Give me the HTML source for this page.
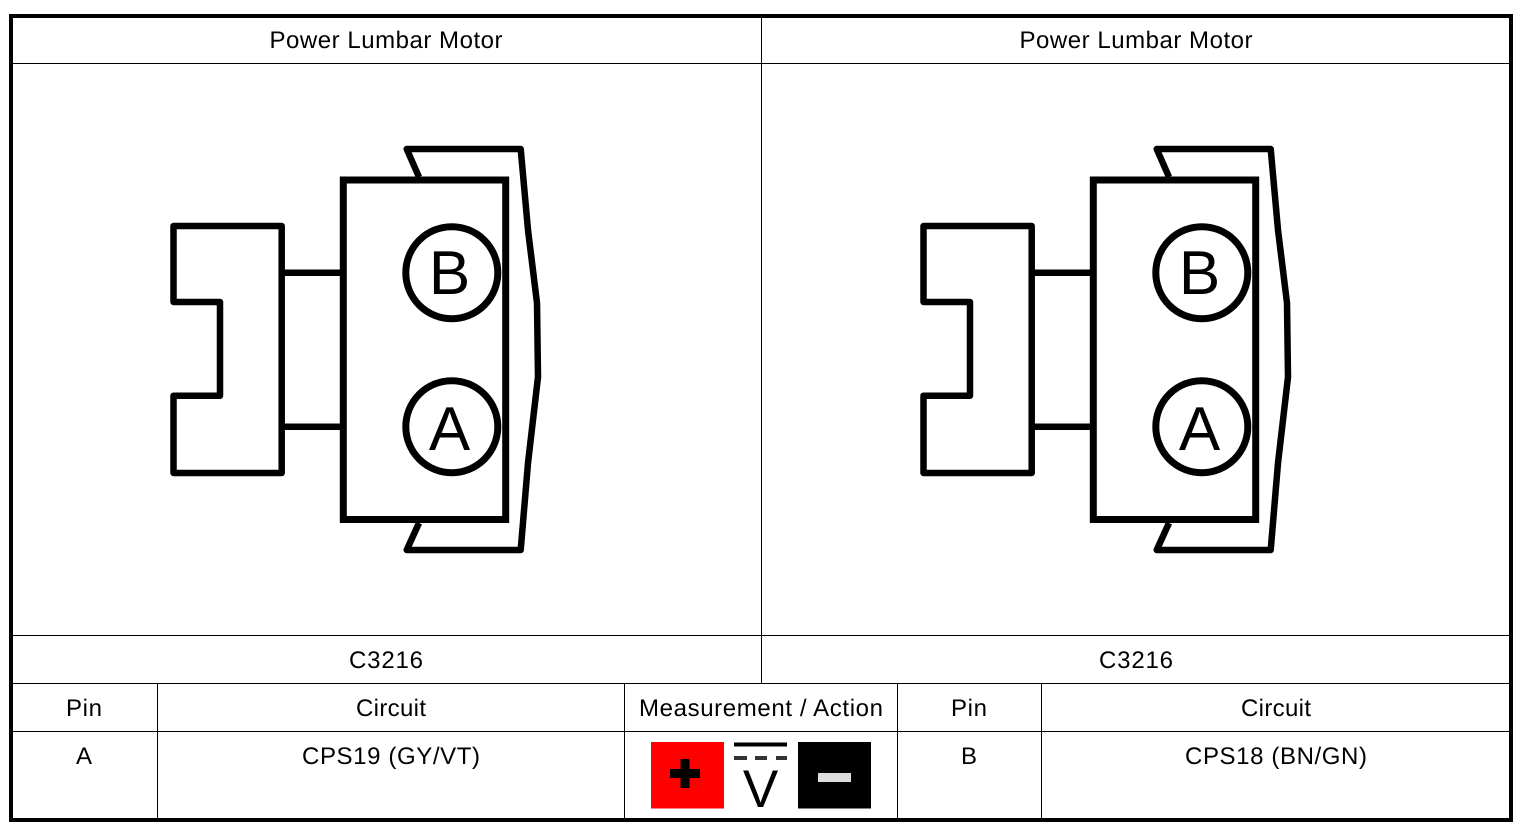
<!DOCTYPE html>
<html>
<head>
<meta charset="utf-8">
<style>
html,body{margin:0;padding:0;background:#fff;width:1526px;height:831px;overflow:hidden}
svg{display:block}
text{font-family:"Liberation Sans",sans-serif;font-size:24px;fill:#000;text-anchor:middle;text-rendering:geometricPrecision}
</style>
</head>
<body>
<svg width="1526" height="831" viewBox="0 0 1526 831" xmlns="http://www.w3.org/2000/svg">
<defs>
<g id="conn" fill="none" stroke="#000" stroke-linejoin="round">
  <path d="M282 272.7H342M282 426.7H342" stroke-width="6.5"/>
  <path d="M173.5 226H281.7V473H173.5V395.7H220V302H173.5Z" stroke-width="6.5"/>
  <rect x="343.3" y="180" width="162.4" height="339.5" stroke-width="7" stroke-linejoin="miter"/>
  <path d="M419 177L406.7 149H520.7L528 230L537 303L538 377L528 463L520.7 550H406.7L419 523" stroke-width="6.5"/>
  <circle cx="451.8" cy="272.7" r="46" stroke-width="7"/>
  <circle cx="451.8" cy="426.7" r="46" stroke-width="7"/>
</g>
</defs>
<rect x="11" y="16" width="1500" height="804" fill="none" stroke="#000" stroke-width="4"/>
<g stroke="#000" stroke-width="1" fill="none">
  <path d="M13 63.5H1509M13 635.5H1509M13 683.5H1509M13 731.5H1509"/>
  <path d="M761.5 18V63M761.5 64V683M157.5 684V818M624.5 684V818M897.5 684V818M1041.5 684V818"/>
</g>

<use href="#conn"/>
<use href="#conn" x="750"/>
<text x="449.5" y="294" style="font-size:62px">B</text>
<text x="449.5" y="450" style="font-size:62px">A</text>
<text x="1199.5" y="294" style="font-size:62px">B</text>
<text x="1199.5" y="450" style="font-size:62px">A</text>

<text x="386" y="48" textLength="233">Power Lumbar Motor</text>
<text x="1136" y="48" textLength="233">Power Lumbar Motor</text>
<text x="386" y="668" textLength="74">C3216</text>
<text x="1136" y="668" textLength="74">C3216</text>
<text x="84" y="716" textLength="36">Pin</text>
<text x="391" y="716" textLength="70">Circuit</text>
<text x="761" y="716" textLength="244">Measurement / Action</text>
<text x="969" y="716" textLength="36">Pin</text>
<text x="1276" y="716" textLength="70">Circuit</text>
<text x="84" y="764">A</text>
<text x="391" y="764" textLength="178">CPS19 (GY/VT)</text>
<text x="969" y="764">B</text>
<text x="1276" y="764" textLength="182">CPS18 (BN/GN)</text>

<rect x="651" y="742" width="73" height="66.5" fill="#f00"/>
<path d="M670 773.5H700M685 759V788" stroke="#000" stroke-width="9" fill="none"/>
<path d="M734 744.5H787" stroke="#000" stroke-width="4" fill="none"/>
<path d="M734 758H747M755 758H767M776 758H787" stroke="#333" stroke-width="4" fill="none"/>
<text x="760.5" y="807" style="font-size:53px">V</text>
<rect x="798" y="742" width="73" height="66.5" fill="#000"/>
<rect x="818" y="773" width="33" height="9" fill="#ddd"/>
</svg>
</body>
</html>
